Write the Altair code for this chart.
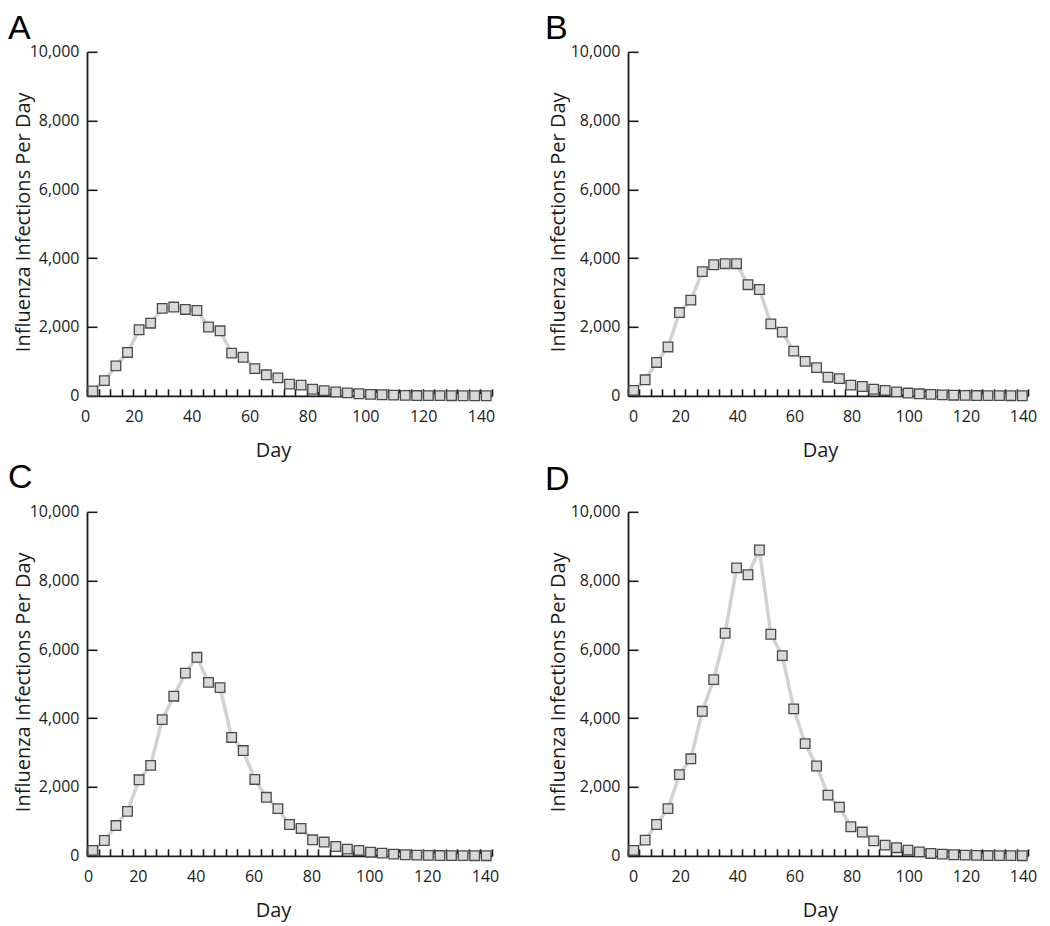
import altair as alt
import pandas as pd

# ---- data ----
DAYS = [2, 6, 10, 14, 18, 22, 26, 30, 34, 38, 42, 46, 50, 54, 58, 62, 66, 70,
        74, 78, 82, 86, 90, 94, 98, 102, 106, 110, 114, 118, 122, 126, 130, 134, 138]

PANEL_A = [140, 440, 870, 1260, 1920, 2110, 2540, 2580, 2510, 2480, 2000, 1890,
           1240, 1120, 790, 610, 520, 340, 310, 190, 150, 110, 85, 60, 40, 30,
           20, 12, 8, 5, 4, 3, 2, 2, 1]
PANEL_B = [155, 465, 970, 1420, 2420, 2780, 3610, 3810, 3840, 3840, 3230, 3090,
           2090, 1850, 1300, 1000, 820, 540, 500, 310, 270, 190, 155, 115, 80, 58,
           40, 28, 18, 12, 8, 5, 4, 3, 2]
PANEL_C = [155, 445, 880, 1290, 2210, 2630, 3960, 4640, 5310, 5770, 5040, 4890,
           3440, 3060, 2220, 1700, 1370, 910, 795, 465, 400, 270, 195, 155, 105, 78,
           48, 30, 20, 12, 8, 5, 4, 3, 2]
PANEL_D = [155, 455, 910, 1370, 2360, 2820, 4200, 5120, 6470, 8370, 8170, 8890,
           6440, 5820, 4270, 3260, 2610, 1765, 1415, 845, 690, 435, 310, 235, 165,
           115, 68, 48, 30, 20, 12, 8, 5, 4, 3]

X_TICKS = [0, 4, 8, 12, 16, 20, 24, 28, 32, 36, 40, 44, 48, 52, 56, 60, 64, 68,
           72, 76, 80, 84, 88, 92, 96, 100, 104, 108, 112, 116, 120, 124, 128,
           132, 136, 140]
Y_TICKS = [0, 2000, 4000, 6000, 8000, 10000]
LETTERS = ["A", "B", "C", "D"]

FONT = "Open Sans"
LETTER_FONT = "Liberation Sans"
INK = "#1a1a1a"
H = 344


def panel(values, letter, width, label_off, zero_off, ytitle_x,
          xtitle_x, letter_x, letter_y):
    df = pd.DataFrame({"day": DAYS, "infections": values})
    x = alt.X(
        "day:Q",
        scale=alt.Scale(domain=[0, 140], nice=False, zero=False),
        axis=alt.Axis(
            values=X_TICKS,
            title="Day",
            labelExpr="datum.value % 20 === 0 ? datum.label : ''",
            labelOverlap=False,
            labelFlush=False,
            ticks=False,
            grid=True,
            gridDash=[7, H - 7],
            gridDashOffset=7,
            gridColor=INK,
            gridWidth=1.6,
            gridOpacity=1,
            domainColor=INK,
            domainWidth=1.8,
            labelFont=FONT,
            labelFontSize=16,
            labelColor=INK,
            labelBaseline="alphabetic",
            labelPadding=26,
            labelOffset={"condition": {"test": "datum.value === 0", "value": zero_off},
                         "value": label_off},
            titleFont=FONT,
            titleFontSize=20,
            titleFontWeight="normal",
            titleColor=INK,
            titleX=xtitle_x,
            titleY=61,
            titleAlign="center",
            titleBaseline="alphabetic",
        ),
    )
    y = alt.Y(
        "infections:Q",
        scale=alt.Scale(domain=[0, 10000], nice=False),
        axis=alt.Axis(
            values=Y_TICKS,
            format=",d",
            title="Influenza Infections Per Day",
            ticks=False,
            grid=True,
            gridDash=[10, 3000],
            gridColor=INK,
            gridWidth=1.6,
            gridOpacity=1,
            domainColor=INK,
            domainWidth=1.8,
            labelFont=FONT,
            labelFontSize=16,
            labelColor=INK,
            labelPadding=8,
            titleFont=FONT,
            titleFontSize=20,
            titleFontWeight="normal",
            titleColor=INK,
            titleX=ytitle_x,
            titleY=170,
            titleAngle=270,
            titleAlign="center",
            titleBaseline="alphabetic",
        ),
    )
    base = alt.Chart(df)
    line = base.mark_line(color="#d2d2d2", strokeWidth=3.5).encode(x=x, y=y)
    pts = base.mark_point(shape="square", filled=True, size=92, fill="#d9d9d9",
                          stroke="#4a4a4a", strokeWidth=1.3, opacity=1).encode(x=x, y=y)
    lab = alt.Chart(pd.DataFrame({"t": [letter]})).mark_text(
        font=LETTER_FONT, fontSize=34, color="#000000", align="left",
        baseline="alphabetic"
    ).encode(text="t:N", x=alt.value(letter_x), y=alt.value(letter_y))
    return alt.layer(line, pts, lab).properties(width=width, height=H)


pa = panel(PANEL_A, LETTERS[0], 405, -11, -2, -57.5, 186, -79, -13)
pb = panel(PANEL_B, LETTERS[1], 400, -5, 5, -63, 192, -83, -13)
pc = panel(PANEL_C, LETTERS[2], 405, -7, 1, -57.5, 186, -79, -24)
pd_ = panel(PANEL_D, LETTERS[3], 400, -5, 5, -63, 192, -83, -22)

chart = alt.concat(
    pa, pb, pc, pd_,
    columns=2,
    spacing={"row": 116, "column": 136},
    bounds="flush",
    align="each",
    padding={"left": 0, "top": 3.8, "right": 4, "bottom": 4},
).configure(
    background="white",
    view=alt.ViewConfig(stroke="transparent", strokeWidth=0),
)

chart.save("out.html", embed_options={"renderer": "svg", "actions": False})
